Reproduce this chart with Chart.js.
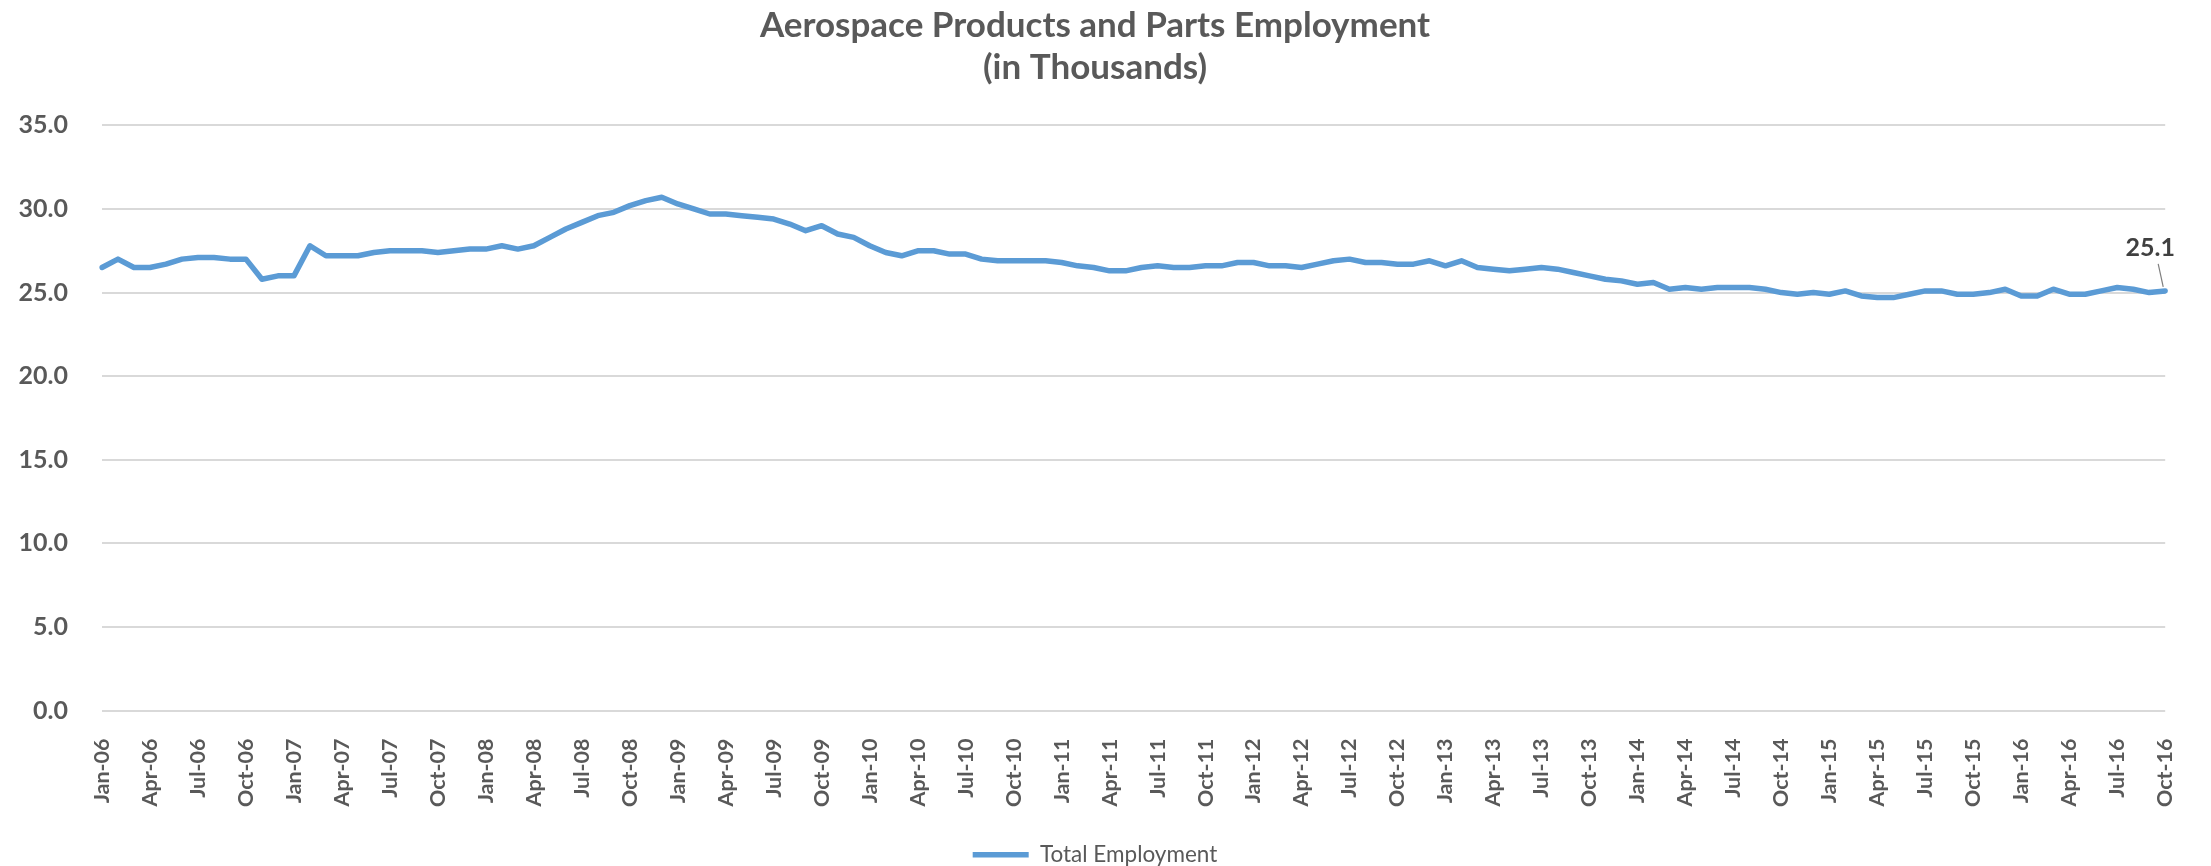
<!DOCTYPE html>
<html>
<head>
<meta charset="utf-8">
<script src="https://cdn.jsdelivr.net/npm/chart.js@4/dist/chart.umd.min.js"></script>
<style>
  html, body { margin: 0; padding: 0; background: #fff; }
  #wrap { width: 2211px; height: 866px; }
</style>
</head>
<body>
<div id="wrap"><canvas id="empChart" width="2211" height="866"></canvas></div>
<script>
// months shown on the axis, Jan-06 .. Oct-16
const monthNames = ['Jan', 'Feb', 'Mar', 'Apr', 'May', 'Jun', 'Jul', 'Aug', 'Sep', 'Oct', 'Nov', 'Dec'];
const years = ['06', '07', '08', '09', '10', '11', '12', '13', '14', '15', '16'];
const lastMonthCount = 10; // 2016 stops at Oct

// Total Employment (thousands), one value per month
const emp2006 = [26.5, 27.0, 26.5, 26.5, 26.7, 27.0, 27.1, 27.1, 27.0, 27.0, 25.8, 26.0];
const emp2007 = [26.0, 27.8, 27.2, 27.2, 27.2, 27.4, 27.5, 27.5, 27.5, 27.4, 27.5, 27.6];
const emp2008 = [27.6, 27.8, 27.6, 27.8, 28.3, 28.8, 29.2, 29.6, 29.8, 30.2, 30.5, 30.7];
const emp2009 = [30.3, 30.0, 29.7, 29.7, 29.6, 29.5, 29.4, 29.1, 28.7, 29.0, 28.5, 28.3];
const emp2010 = [27.8, 27.4, 27.2, 27.5, 27.5, 27.3, 27.3, 27.0, 26.9, 26.9, 26.9, 26.9];
const emp2011 = [26.8, 26.6, 26.5, 26.3, 26.3, 26.5, 26.6, 26.5, 26.5, 26.6, 26.6, 26.8];
const emp2012 = [26.8, 26.6, 26.6, 26.5, 26.7, 26.9, 27.0, 26.8, 26.8, 26.7, 26.7, 26.9];
const emp2013 = [26.6, 26.9, 26.5, 26.4, 26.3, 26.4, 26.5, 26.4, 26.2, 26.0, 25.8, 25.7];
const emp2014 = [25.5, 25.6, 25.2, 25.3, 25.2, 25.3, 25.3, 25.3, 25.2, 25.0, 24.9, 25.0];
const emp2015 = [24.9, 25.1, 24.8, 24.7, 24.7, 24.9, 25.1, 25.1, 24.9, 24.9, 25.0, 25.2];
const emp2016 = [24.8, 24.8, 25.2, 24.9, 24.9, 25.1, 25.3, 25.2, 25.0, 25.1];

const yTicks = [0, 5, 10, 15, 20, 25, 30, 35];

const employment = [].concat(emp2006, emp2007, emp2008, emp2009, emp2010, emp2011,
                             emp2012, emp2013, emp2014, emp2015, emp2016);

const labels = [];
years.forEach(function (yy, yi) {
    const n = (yi === years.length - 1) ? lastMonthCount : 12;
    for (let m = 0; m < n; m++) labels.push(monthNames[m] + '-' + yy);
});

const GREY = '#595959';
const BLUE = '#5B9BD5';

// label on the last point with a small leader line
const lastLabel = {
    id: 'lastLabel',
    afterDatasetsDraw(chart) {
        const meta = chart.getDatasetMeta(0);
        const pt = meta.data[meta.data.length - 1];
        const ctx = chart.ctx;
        ctx.save();
        ctx.strokeStyle = '#7F7F7F';
        ctx.lineWidth = 1.2;
        ctx.beginPath();
        ctx.moveTo(pt.x - 7, pt.y - 27);
        ctx.lineTo(pt.x - 2, pt.y - 4);
        ctx.stroke();
        ctx.fillStyle = '#404040';
        ctx.font = 'bold 25px Lato';
        ctx.textAlign = 'center';
        ctx.textBaseline = 'middle';
        ctx.fillText(employment[employment.length - 1].toFixed(1), pt.x - 15, pt.y - 43);
        ctx.restore();
    }
};

const ctx = document.getElementById('empChart').getContext('2d');
new Chart(ctx, {
    type: 'line',
    data: {
        labels: labels,
        datasets: [{
            label: 'Total Employment',
            data: employment,
            borderColor: BLUE,
            backgroundColor: BLUE,
            borderWidth: 5.5,
            pointRadius: 0,
            pointStyle: 'line',
            tension: 0,
            borderCapStyle: 'round',
            borderJoinStyle: 'round'
        }]
    },
    options: {
        responsive: false,
        animation: false,
        layout: { padding: { left: 0, right: 21, top: 0, bottom: -10 } },
        plugins: {
            title: {
                display: true,
                text: ['Aerospace Products and Parts Employment', '(in Thousands)'],
                color: GREY,
                font: { family: 'Lato', size: 35, weight: 'bold', lineHeight: 1.22 },
                padding: { top: 4, bottom: 36 }
            },
            legend: {
                position: 'bottom',
                labels: {
                    color: GREY,
                    font: { family: 'Lato', size: 22.5 },
                    usePointStyle: true,
                    pointStyleWidth: 56,
                    padding: 0
                }
            },
            tooltip: { enabled: false }
        },
        scales: {
            x: {
                offset: false,
                grid: { display: false },
                border: { display: false },
                afterFit: function (axis) { axis.height = 133; },
                ticks: {
                    autoSkip: false,
                    minRotation: 90,
                    maxRotation: 90,
                    padding: 20,
                    color: GREY,
                    font: { family: 'Lato', size: 21.5, weight: 'bold' },
                    callback: function (val, i) { return i % 3 === 0 ? labels[i] : ''; }
                }
            },
            y: {
                min: yTicks[0],
                max: yTicks[yTicks.length - 1],
                afterBuildTicks: function (axis) { axis.ticks = yTicks.map(v => ({ value: v })); },
                afterFit: function (axis) { axis.width = 102; },
                grid: { color: '#D9D9D9', lineWidth: 2, drawTicks: false },
                border: { display: false },
                ticks: {
                    padding: 34,
                    color: GREY,
                    font: { family: 'Lato', size: 25, weight: 'bold' },
                    callback: function (v) { return Number(v).toFixed(1); }
                }
            }
        }
    },
    plugins: [lastLabel]
});
</script>
</body>
</html>
